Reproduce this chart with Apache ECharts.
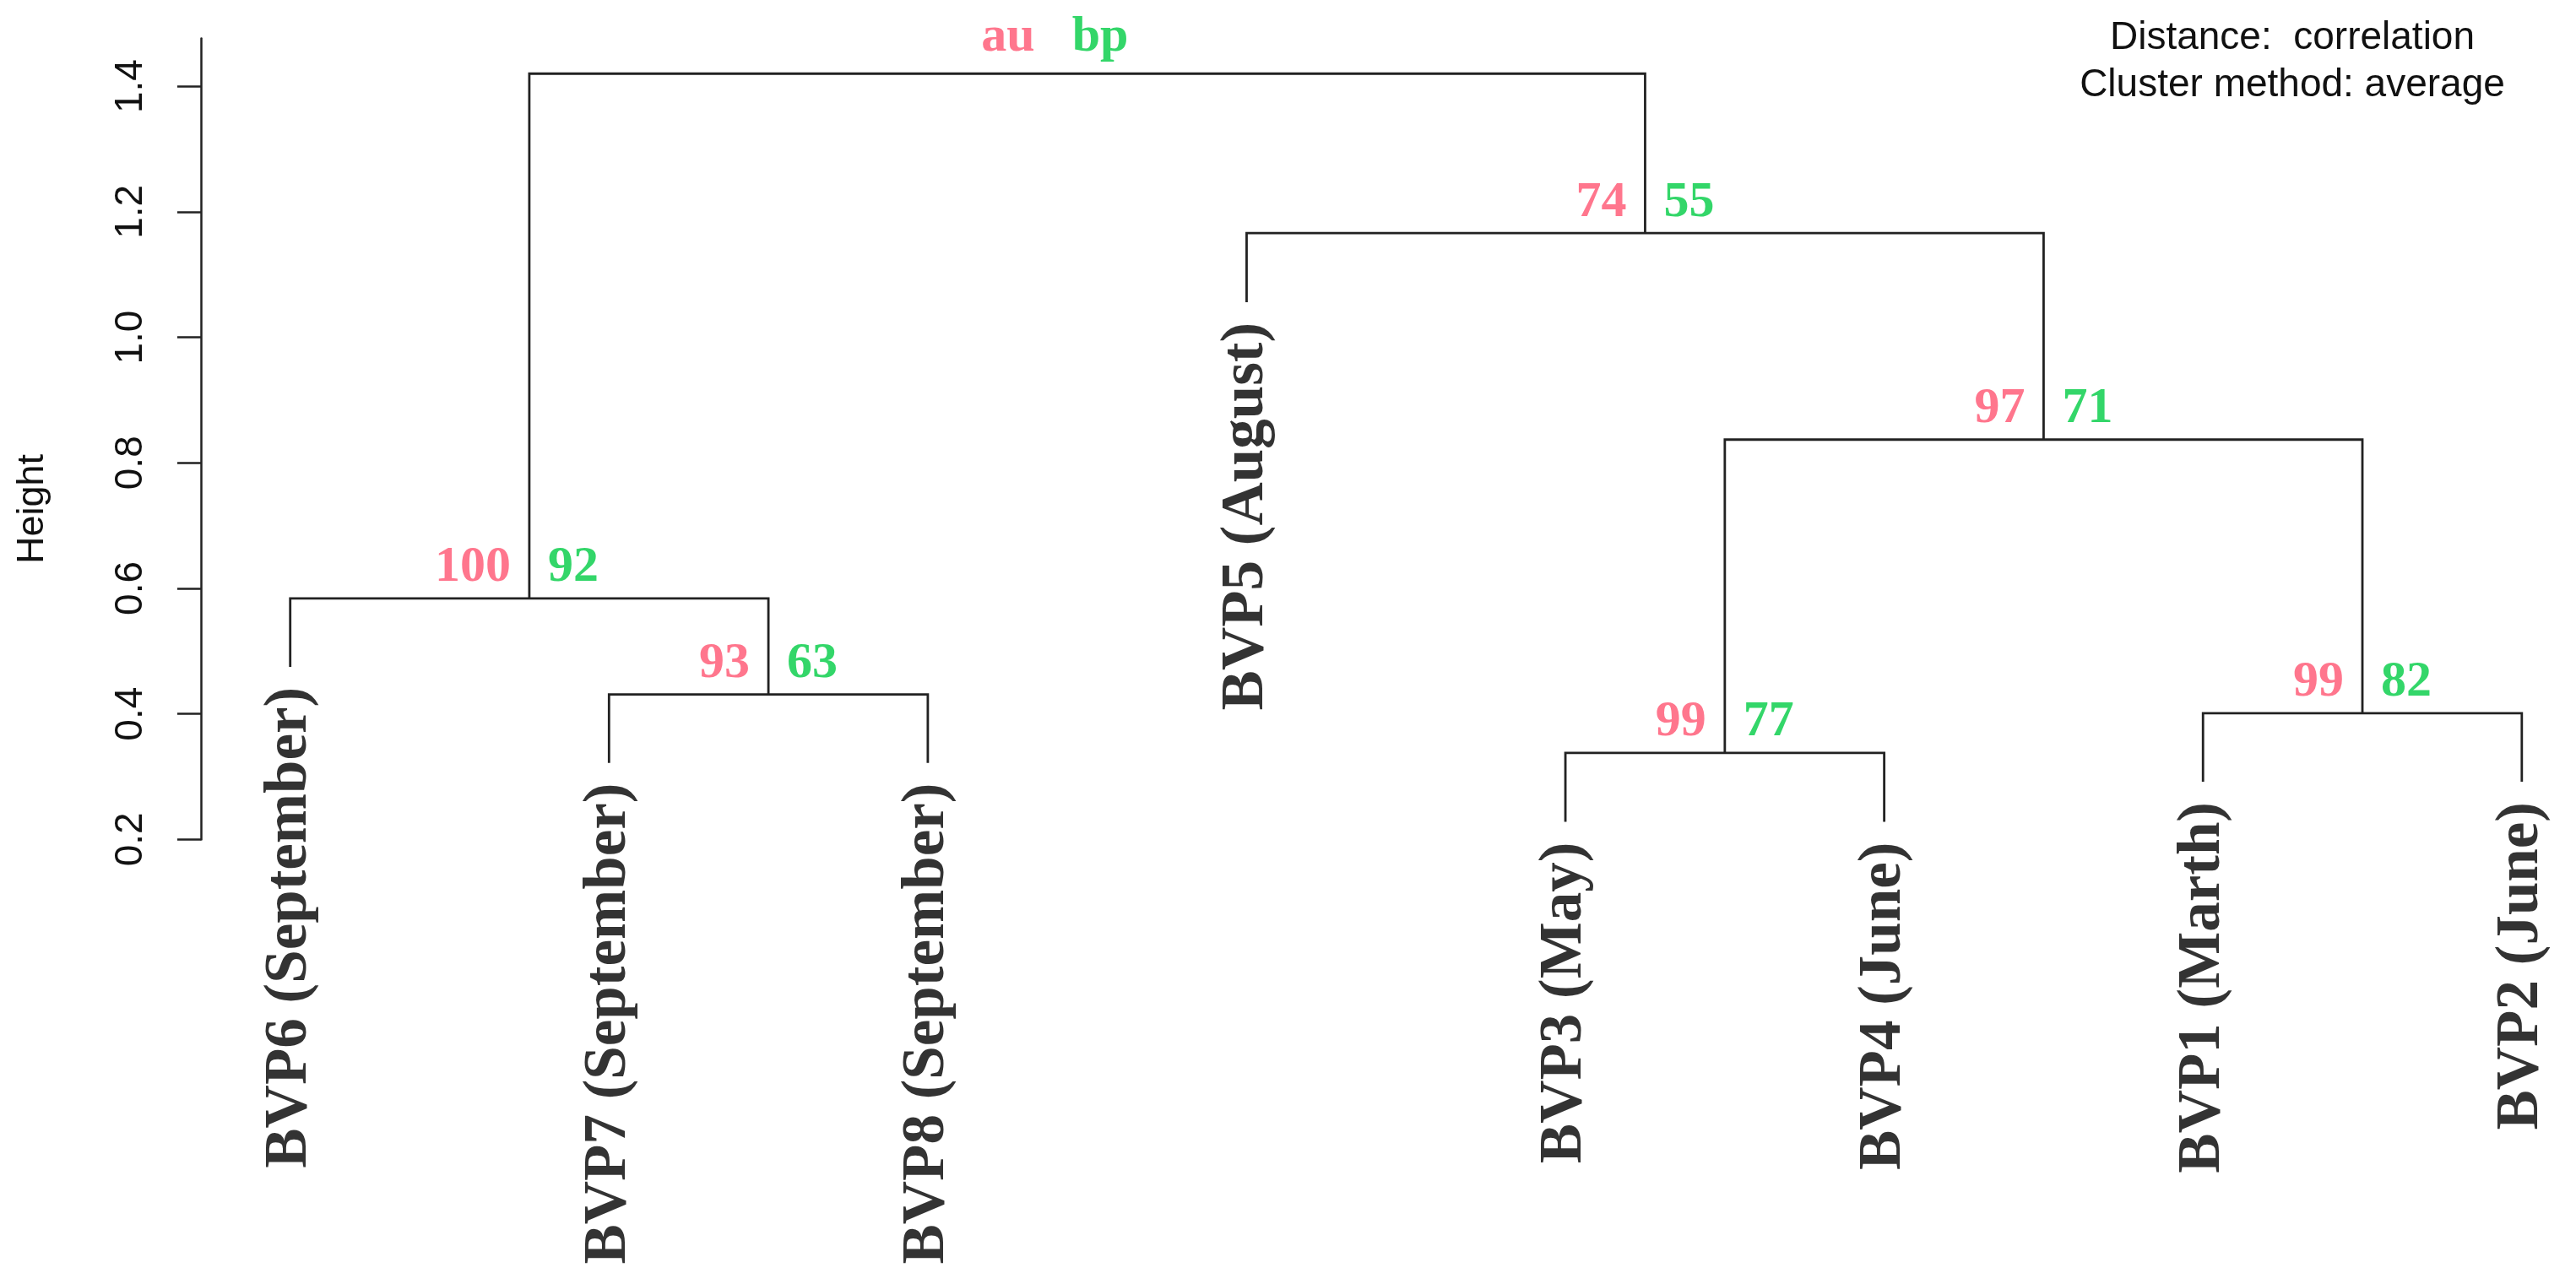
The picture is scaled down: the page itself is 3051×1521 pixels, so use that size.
<!DOCTYPE html>
<html>
<head>
<meta charset="utf-8">
<title>pvclust dendrogram</title>
<script src="https://cdn.jsdelivr.net/npm/echarts/dist/echarts.min.js"></script>
<style>
	html,body{margin:0;padding:0;background:#fff;}
	#dendroContainer{width:3051px;height:1521px;}
</style>
</head>
<body>
<div id="dendroContainer"></div>
<script>
// leaves in plotting order, left to right
var leafNames = ['BVP6 (September)', 'BVP7 (September)', 'BVP8 (September)', 'BVP5 (August)',
	'BVP3 (May)', 'BVP4 (June)', 'BVP1 (Marth)', 'BVP2 (June)'];
// height where each leaf branch ends (hangs below its merge)
var leafEnds = [0.475, 0.322, 0.322, 1.056, 0.228, 0.228, 0.292, 0.292];
// merge table like hclust$merge: negative = leaf number, positive = earlier merge
var mergeLeft = [-2, -5, -7, -1, 2, -4, 4];
var mergeRight = [-3, -6, -8, 1, 3, 5, 6];
var mergeHeights = [0.431, 0.338, 0.401, 0.584, 0.837, 1.166, 1.420];
// au / bp values (%) of each merge, root shows the header
var auValues = ['93', '99', '99', '100', '97', '74', 'au'];
var bpValues = ['63', '77', '82', '92', '71', '55', 'bp'];
var yTicks = [0.2, 0.4, 0.6, 0.8, 1.0, 1.2, 1.4];

var mergeX = [];
function nodeX(id){ return id < 0 ? -id : mergeX[id - 1]; }
function nodeBottom(id){ return id < 0 ? leafEnds[-id - 1] : mergeHeights[id - 1]; }

var linkData = [], auData = [], bpData = [];
for (var i = 0; i < mergeHeights.length; i++) {
	var xl = nodeX(mergeLeft[i]), xr = nodeX(mergeRight[i]);
	mergeX.push((xl + xr) / 2);
	linkData.push([xl, nodeBottom(mergeLeft[i]), xr, nodeBottom(mergeRight[i]), mergeHeights[i]]);
	var isRoot = (i === mergeHeights.length - 1);
	auData.push({value: [mergeX[i], mergeHeights[i], auValues[i]], label: {offset: isRoot ? [-40, -43] : [0, -36]}});
	bpData.push({value: [mergeX[i], mergeHeights[i], bpValues[i]], label: {offset: isRoot ? [-40, -43] : [0, -36]}});
}
var leafData = leafNames.map(function(name, k){ return [k + 1, leafEnds[k], name]; });

var chart = echarts.init(document.getElementById('dendroContainer'));

function renderLink(params, api){
	var p1 = api.coord([api.value(0), api.value(1)]);
	var p2 = api.coord([api.value(0), api.value(4)]);
	var p3 = api.coord([api.value(2), api.value(4)]);
	var p4 = api.coord([api.value(2), api.value(3)]);
	return {
		type: 'polyline',
		shape: {points: [p1, p2, p3, p4]},
		style: {stroke: '#222', lineWidth: 2.8, fill: 'none'}
	};
}

var numLabel = {
	show: true,
	distance: 22,
	fontFamily: 'Liberation Serif',
	fontWeight: 'bold',
	fontSize: 60,
	formatter: function(p){ return p.value[2]; }
};

chart.setOption({
	backgroundColor: '#fff',
	animation: false,
	grid: {left: 238, right: 0, top: 45.6, bottom: 526.6},
	xAxis: {type: 'value', min: 0.72, max: 8.17, show: false},
	yAxis: {
		type: 'value',
		min: 0.2,
		max: 1.476,
		axisLine: {show: true, onZero: false, lineStyle: {color: '#222', width: 2.5}},
		axisTick: {show: true, length: 28, customValues: yTicks, lineStyle: {color: '#222', width: 2.5}},
		axisLabel: {
			customValues: yTicks,
			rotate: 90,
			margin: 60,
			fontSize: 46,
			fontFamily: 'Liberation Sans',
			color: '#111',
			formatter: function(v){ return v.toFixed(1); }
		},
		splitLine: {show: false}
	},
	graphic: [
		{type: 'text', x: 39, y: 603, rotation: Math.PI / 2,
			style: {text: 'Height', fontSize: 45, fontFamily: 'Liberation Sans', fill: '#111', textAlign: 'center', textVerticalAlign: 'middle'}},
		{type: 'text', x: 2715, y: 45,
			style: {text: 'Distance:  correlation', fontSize: 46, fontFamily: 'Liberation Sans', fill: '#111', textAlign: 'center', textVerticalAlign: 'middle'}},
		{type: 'text', x: 2715, y: 101,
			style: {text: 'Cluster method: average', fontSize: 46, fontFamily: 'Liberation Sans', fill: '#111', textAlign: 'center', textVerticalAlign: 'middle'}}
	],
	series: [
		{
			type: 'custom',
			renderItem: renderLink,
			data: linkData,
			silent: true
		},
		{
			// au values, left of each stem
			type: 'scatter',
			symbolSize: 0,
			silent: true,
			data: auData,
			label: echarts.util.merge({position: 'left', color: '#FF5470'}, numLabel, false)
		},
		{
			// bp values, right of each stem
			type: 'scatter',
			symbolSize: 0,
			silent: true,
			data: bpData,
			label: echarts.util.merge({position: 'right', color: '#00CC44'}, numLabel, false)
		},
		{
			// leaf labels hanging under each branch
			type: 'scatter',
			symbolSize: 0,
			silent: true,
			data: leafData,
			label: {
				show: true,
				position: 'bottom',
				distance: 24,
				rotate: 90,
				align: 'right',
				verticalAlign: 'middle',
				fontFamily: 'Liberation Serif',
				fontWeight: 'bold',
				fontSize: 71,
				color: '#000',
				formatter: function(p){ return p.value[2]; }
			}
		}
	]
});
</script>
</body>
</html>
